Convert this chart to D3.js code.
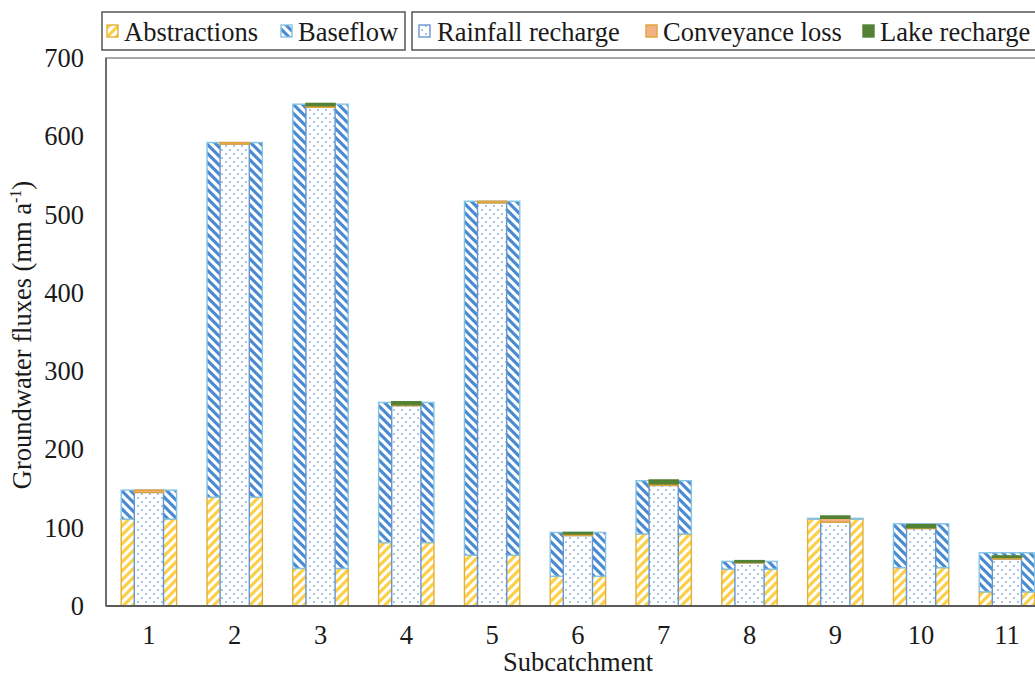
<!DOCTYPE html>
<html>
<head>
<meta charset="utf-8">
<script src="https://cdn.jsdelivr.net/npm/d3@7"></script>
<style>
  html, body { margin: 0; padding: 0; background: #fff; }
  svg { display: block; }
  text { font-family: "Liberation Serif", "Times New Roman", serif; fill: #1a1a1a; }
</style>
</head>
<body>
<svg id="chart" width="1035" height="676"></svg>
<script>
// Groundwater fluxes per subcatchment (mm a-1)
const subcatchments = ["1", "2", "3", "4", "5", "6", "7", "8", "9", "10", "11"];
// outflows (wide bar)
const abstractions = [111, 139, 48, 81, 65, 38, 92, 47, 111, 49, 18];
const baseflow     = [37, 453, 593, 179, 452, 56, 68, 10, 1, 56, 50];
// inflows (narrow bar)
const rainfallRecharge = [145, 590, 637, 256, 515, 90, 154, 55, 107, 99, 60];
const conveyanceLoss   = [3, 2, 2, 1, 2, 2, 2, 1, 5, 1, 2];
const lakeRecharge     = [0, 0, 3, 4, 0, 2, 5, 2, 3, 4, 2];
const yTicks = [0, 100, 200, 300, 400, 500, 600, 700];

const svg = d3.select("#chart");
const FONT = 26.5;

const margin = { left: 106, top: 58, bottom: 606 };
const x = d3.scaleBand()
  .domain(subcatchments)
  .range([margin.left, margin.left + subcatchments.length * 85.8])
  .padding(0);
const y = d3.scaleLinear().domain([0, 700]).range([margin.bottom, margin.top]);

// ---------- fill patterns ----------
const defs = svg.append("defs");
function stripes(id, color, dir) {
  const s = 9;
  const p = defs.append("pattern").attr("id", id)
    .attr("patternUnits", "userSpaceOnUse").attr("width", s).attr("height", s);
  p.append("rect").attr("width", s).attr("height", s).attr("fill", "#fff");
  const d = dir === "up"
    ? `M-2,2 L2,-2 M0,${s} L${s},0 M${s - 2},${s + 2} L${s + 2},${s - 2}`
    : `M-2,${s - 2} L2,${s + 2} M0,0 L${s},${s} M${s - 2},-2 L${s + 2},2`;
  p.append("path").attr("d", d).attr("stroke", color).attr("stroke-width", 3.1);
}
stripes("pat-abs", "#FDCF45", "up");
stripes("pat-base", "#4A8AD0", "down");
const dots = defs.append("pattern").attr("id", "pat-rain")
  .attr("patternUnits", "userSpaceOnUse").attr("width", 8).attr("height", 8);
dots.append("rect").attr("width", 8).attr("height", 8).attr("fill", "#fff");
dots.append("circle").attr("cx", 2).attr("cy", 2).attr("r", 0.9).attr("fill", "#80A9DA");
dots.append("circle").attr("cx", 6).attr("cy", 6).attr("r", 0.9).attr("fill", "#80A9DA");

const styles = {
  abs:  { fill: "url(#pat-abs)",  stroke: "#E2B03A" },
  base: { fill: "url(#pat-base)", stroke: "#84C3E4" },
  rain: { fill: "url(#pat-rain)", stroke: "#6596D3" },
  conv: { fill: "#F4B183",        stroke: "#E0A33A" },
  lake: { fill: "#548235",        stroke: "#548235" }
};

// ---------- plot frame ----------
svg.append("rect")
  .attr("x", margin.left).attr("y", margin.top)
  .attr("width", x.range()[1] - margin.left + 20)
  .attr("height", margin.bottom - margin.top)
  .attr("fill", "none").attr("stroke", "#8a8a8a").attr("stroke-width", 1.5);

// ---------- stacked bars ----------
function stackSeries(keys, arrays) {
  const rows = subcatchments.map((c, i) => {
    const r = { cat: c };
    keys.forEach((k, j) => r[k] = arrays[j][i]);
    return r;
  });
  return d3.stack().keys(keys)(rows);
}
const outStack = stackSeries(["abs", "base"], [abstractions, baseflow]);
const inStack = stackSeries(["rain", "conv", "lake"], [rainfallRecharge, conveyanceLoss, lakeRecharge]);

const wideW = x.bandwidth() * 0.645;
const narrowW = x.bandwidth() * 0.34;

function drawStack(stack, w) {
  stack.forEach(layer => {
    const st = styles[layer.key];
    svg.append("g").selectAll("rect")
      .data(layer.filter(d => d[1] - d[0] > 0))
      .join("rect")
      .attr("x", d => x(d.data.cat) + (x.bandwidth() - w) / 2)
      .attr("width", w)
      .attr("y", d => y(d[1]))
      .attr("height", d => y(d[0]) - y(d[1]))
      .attr("fill", st.fill)
      .attr("stroke", st.stroke)
      .attr("stroke-width", 1.4);
  });
}
drawStack(outStack, wideW);
drawStack(inStack, narrowW);

// ---------- axes ----------
svg.append("line")
  .attr("x1", margin.left).attr("x2", 1035)
  .attr("y1", y(0)).attr("y2", y(0))
  .attr("stroke", "#5a5a5a").attr("stroke-width", 2);
svg.append("line")
  .attr("x1", margin.left).attr("x2", margin.left)
  .attr("y1", y(700)).attr("y2", y(0))
  .attr("stroke", "#5a5a5a").attr("stroke-width", 1.5);

const yAxis = svg.append("g")
  .attr("transform", `translate(${margin.left},0)`)
  .call(d3.axisLeft(y).tickValues(yTicks).tickSize(0).tickPadding(22));
yAxis.select(".domain").remove();
yAxis.selectAll("text").style("font-size", FONT + "px").style("font-family", "Liberation Serif");

const xAxis = svg.append("g")
  .attr("transform", `translate(0,${y(0)})`)
  .call(d3.axisBottom(x).tickSize(0).tickPadding(19));
xAxis.select(".domain").remove();
xAxis.selectAll("text").style("font-size", FONT + "px").style("font-family", "Liberation Serif");

// axis titles
svg.append("text")
  .attr("x", 578).attr("y", 671)
  .attr("text-anchor", "middle")
  .style("font-size", FONT + "px")
  .text("Subcatchment");

const yt = svg.append("text")
  .attr("transform", "translate(31,335) rotate(-90)")
  .attr("text-anchor", "middle")
  .style("font-size", FONT + "px");
yt.append("tspan").text("Groundwater fluxes (mm a");
yt.append("tspan").attr("dy", -10).style("font-size", "16px").text("-1");
yt.append("tspan").attr("dy", 10).text(")");

// ---------- legends ----------
const legendBoxes = [
  { x: 102, w: 303, items: [
    { key: "abs", label: "Abstractions", sx: 107, tx: 124 },
    { key: "base", label: "Baseflow", sx: 281, tx: 298 }
  ]},
  { x: 412, w: 640, items: [
    { key: "rain", label: "Rainfall recharge", sx: 419, tx: 437 },
    { key: "conv", label: "Conveyance loss", sx: 646, tx: 663 },
    { key: "lake", label: "Lake recharge", sx: 863, tx: 880 }
  ]}
];
legendBoxes.forEach(b => {
  svg.append("rect")
    .attr("x", b.x).attr("y", 12).attr("width", b.w).attr("height", 38)
    .attr("fill", "#fff").attr("stroke", "#555").attr("stroke-width", 1.5);
  b.items.forEach(it => {
    const st = styles[it.key];
    svg.append("rect")
      .attr("x", it.sx).attr("y", 25).attr("width", 11).attr("height", 12)
      .attr("fill", st.fill).attr("stroke", st.stroke).attr("stroke-width", 1.4);
    svg.append("text")
      .attr("x", it.tx).attr("y", 41)
      .style("font-size", FONT + "px")
      .text(it.label);
  });
});
</script>
</body>
</html>
